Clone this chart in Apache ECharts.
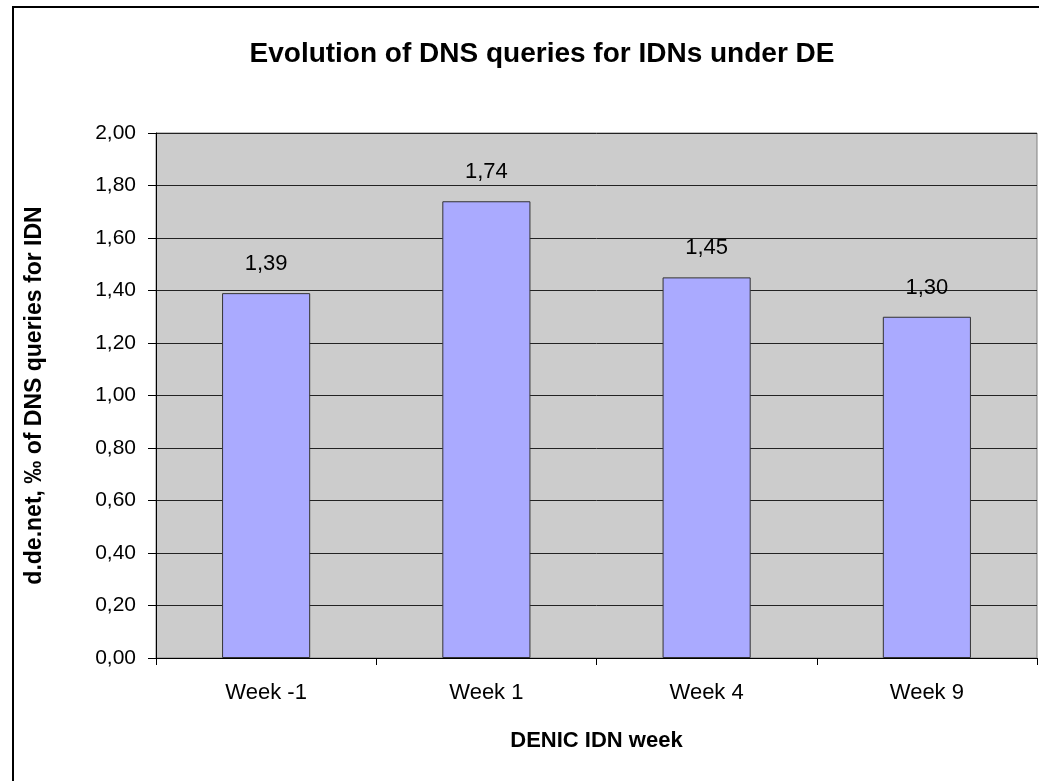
<!DOCTYPE html>
<html>
<head>
<meta charset="utf-8">
<script src="https://cdn.jsdelivr.net/npm/echarts@6/dist/echarts.min.js"></script>
<style>
  html, body { margin: 0; padding: 0; background: #fff; }
  #chart { width: 1039px; height: 781px; }
</style>
</head>
<body>
<div id="chart"></div>
<script>
const weeks = ['Week -1', 'Week 1', 'Week 4', 'Week 9']
const shares = [1.39, 1.74, 1.45, 1.30]

const fmt = v => v.toFixed(2).replace('.', ',')

const chart = echarts.init(document.getElementById('chart'))

chart.setOption({
  animation: false,
  textStyle: { fontFamily: 'Liberation Sans, Arial, sans-serif' },
  title: {
    text: 'Evolution of DNS queries for IDNs under DE',
    left: 537,
    textAlign: 'center',
    top: 35,
    textStyle: { fontSize: 28, fontWeight: 'bold', color: '#000' }
  },
  graphic: [{
    type: 'rect',
    shape: { x: 13, y: 7, width: 1100, height: 1000 },
    style: { fill: 'none', stroke: '#000', lineWidth: 2 },
    z: 100
  }],
  grid: {
    left: 156, right: 2, top: 133, bottom: 123,
    show: true,
    backgroundColor: '#CCCCCC',
    borderColor: '#808080',
    borderWidth: 1
  },
  xAxis: {
    type: 'category',
    data: weeks,
    name: 'DENIC IDN week',
    nameLocation: 'middle',
    nameGap: 72,
    nameTextStyle: { fontSize: 22, fontWeight: 'bold', color: '#000' },
    axisLine: { lineStyle: { color: '#000', width: 1 } },
    axisTick: { show: true, length: 7, lineStyle: { color: '#000' } },
    axisLabel: { fontSize: 22, color: '#000', margin: 24 }
  },
  yAxis: {
    type: 'value',
    min: 0,
    max: 2,
    interval: 0.2,
    name: 'd.de.net, \u2030 of DNS queries for IDN',
    nameLocation: 'middle',
    nameGap: 110,
    nameTextStyle: { fontSize: 23, fontWeight: 'bold', color: '#000' },
    axisLine: { show: true, lineStyle: { color: '#000', width: 1 } },
    axisTick: { show: true, length: 8, lineStyle: { color: '#000' } },
    axisLabel: { fontSize: 21, color: '#000', margin: 20, formatter: fmt },
    splitLine: { lineStyle: { color: '#222', width: 1 } }
  },
  series: [{
    type: 'bar',
    data: shares,
    barWidth: '40%',
    itemStyle: { color: '#AAAAFF', borderColor: '#333', borderWidth: 1 },
    label: {
      show: true,
      position: 'top',
      distance: 18,
      fontSize: 22,
      color: '#000',
      formatter: p => fmt(p.value)
    }
  }]
})
</script>
</body>
</html>
